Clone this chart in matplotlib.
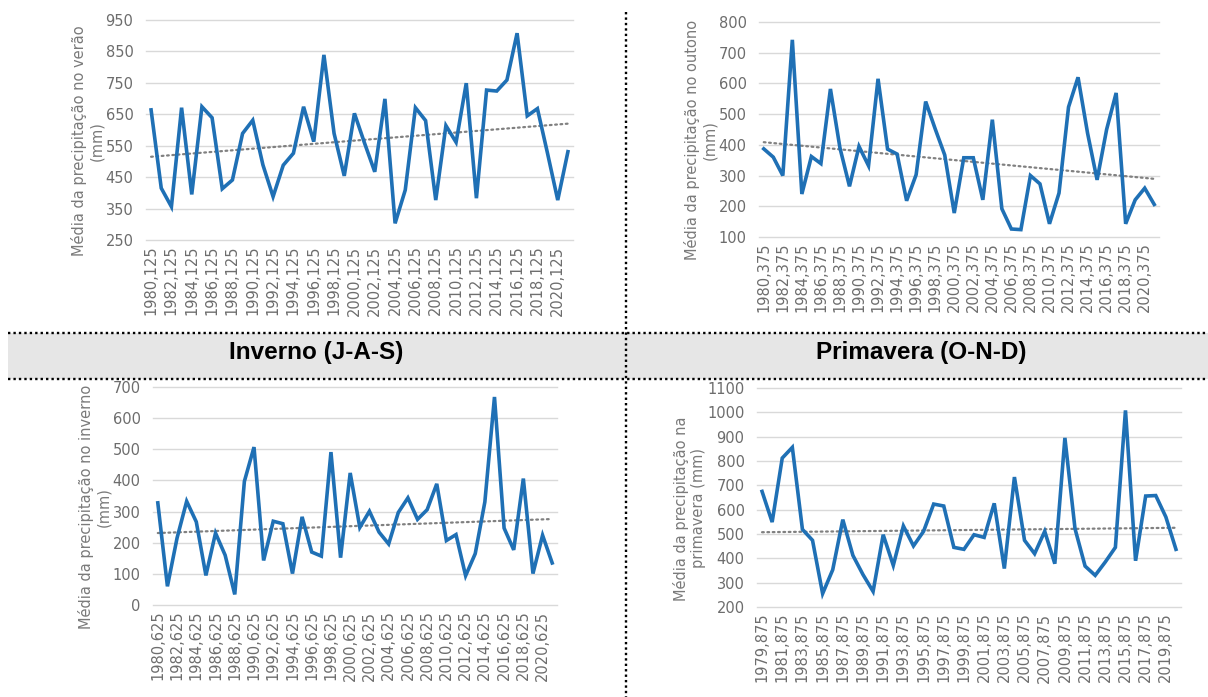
"""
Seasonal mean precipitation 1980-2021, four panels with linear trend
"""
import numpy as np
import matplotlib
matplotlib.use('Agg')
import matplotlib.pyplot as plt
from matplotlib.patches import Rectangle
from matplotlib.lines import Line2D

# --- Data (mm)
years_ver = [f'{y},125' for y in range(1980, 2022)]
verao = [664, 415, 356, 671, 395, 674, 639, 413, 441, 589, 631, 489, 388, 488,
         526, 674, 563, 839, 589, 454, 653, 558, 467, 699, 303, 409, 671, 630,
         377, 614, 561, 749, 383, 727, 724, 759, 908, 645, 668, 525, 377, 531]

years_out = [f'{y},375' for y in range(1980, 2022)]
outono = [387, 360, 300, 742, 240, 362, 339, 582, 390, 265, 395, 332, 615, 386,
          370, 218, 303, 541, 452, 367, 178, 358, 358, 221, 482, 192, 126, 124,
          300, 273, 143, 243, 523, 620, 438, 286, 450, 569, 143, 221, 259, 206]

years_inv = [f'{y},625' for y in range(1980, 2022)]
inverno = [328, 60, 215, 333, 267, 95, 231, 160, 34, 397, 507, 143, 269, 261,
           101, 283, 170, 157, 491, 152, 424, 249, 301, 234, 196, 297, 344, 275,
           306, 389, 207, 226, 94, 165, 331, 668, 247, 177, 406, 101, 224, 135]

years_pri = [f'{y},875' for y in range(1979, 2021)]
primavera = [675, 549, 812, 856, 519, 474, 255, 353, 559, 412, 333, 264, 497, 371,
             533, 451, 511, 623, 615, 445, 437, 497, 486, 626, 358, 734, 474, 419,
             511, 378, 895, 522, 368, 330, 385, 445, 1008, 390, 656, 658, 570, 437]

W, H = 1208, 697
blue = '#1f70b5'
grey_txt = '#6d6d6d'

fig = plt.figure(figsize=(W / 100, H / 100), dpi=100)


def px_rect(x0, x1, ytop, ybot):
    return [x0 / W, 1 - ybot / H, (x1 - x0) / W, (ybot - ytop) / H]


def panel(rect, labels, vals, ylim, ystep, ylabel):
    ax = fig.add_axes(rect)
    x = np.arange(len(vals))
    ax.plot(x, vals, color=blue, lw=2.6, solid_joinstyle='miter', zorder=3)
    k, b = np.polyfit(x, vals, 1)
    ax.plot(x, k * x + b, color='#808080', lw=1.6, ls=(0, (0.8, 1.6)),
            dash_capstyle='round', zorder=2)
    ax.set_xlim(-0.5, len(vals) - 0.5)
    ax.set_ylim(*ylim)
    ax.set_yticks(np.arange(ylim[0], ylim[1] + 1, ystep))
    ax.set_xticks(x[::2])
    ax.set_xticklabels(labels[::2], rotation=90)
    ax.grid(axis='y', color='#d9d9d9', lw=1.0, zorder=0)
    for gl in ax.get_ygridlines():
        gl.set_clip_on(False)
    ax.set_axisbelow(True)
    for s in ax.spines.values():
        s.set_visible(False)
    ax.tick_params(length=0, labelsize=10.5, labelcolor=grey_txt)
    ax.tick_params(axis='y', pad=9)
    ax.tick_params(axis='x', pad=4)
    ax.set_ylabel(ylabel, fontsize=10.5, color='#7a7a7a', linespacing=1.15, labelpad=1)
    ax.yaxis.label.set_y(0.45)
    return ax


panel(px_rect(146, 573, 20, 240), years_ver, verao, (250, 950), 100,
      'Média da precipitação no verão\n(mm)')
panel(px_rect(759, 1159, 22, 237), years_out, outono, (100, 800), 100,
      'Média da precipitação no outono\n(mm)')
panel(px_rect(153, 557, 387, 605), years_inv, inverno, (0, 700), 100,
      'Média da precipitação no inverno\n(mm)')
panel(px_rect(757, 1181, 388, 607), years_pri, primavera, (200, 1100), 100,
      'Média da precipitação na\nprimavera (mm)')

# --- Title band with dotted borders
band_top, band_bot = 332.5, 379
fig.patches.append(Rectangle((8 / W, 1 - band_bot / H), 1 - 8 / W, (band_bot - band_top) / H,
                             transform=fig.transFigure, facecolor='#e6e6e6',
                             edgecolor='none', zorder=0))
dots = dict(color='black', lw=1.7, ls=(0, (1, 1.3)), dash_capstyle='butt')
for yy in (band_top, band_bot):
    fig.add_artist(Line2D([8 / W, 1], [1 - yy / H] * 2, transform=fig.transFigure, **dots))
fig.add_artist(Line2D([626 / W] * 2, [1 - 12 / H, 0], transform=fig.transFigure, **dots))

title_y = 1 - 353 / H
fig.text(316 / W, title_y, 'Inverno (J-A-S)', ha='center', va='center',
         fontsize=17.5, fontweight='bold', family='Liberation Sans')
fig.text(921 / W, title_y, 'Primavera (O-N-D)', ha='center', va='center',
         fontsize=17.5, fontweight='bold', family='Liberation Sans')

fig.savefig('out.png', dpi=100)
